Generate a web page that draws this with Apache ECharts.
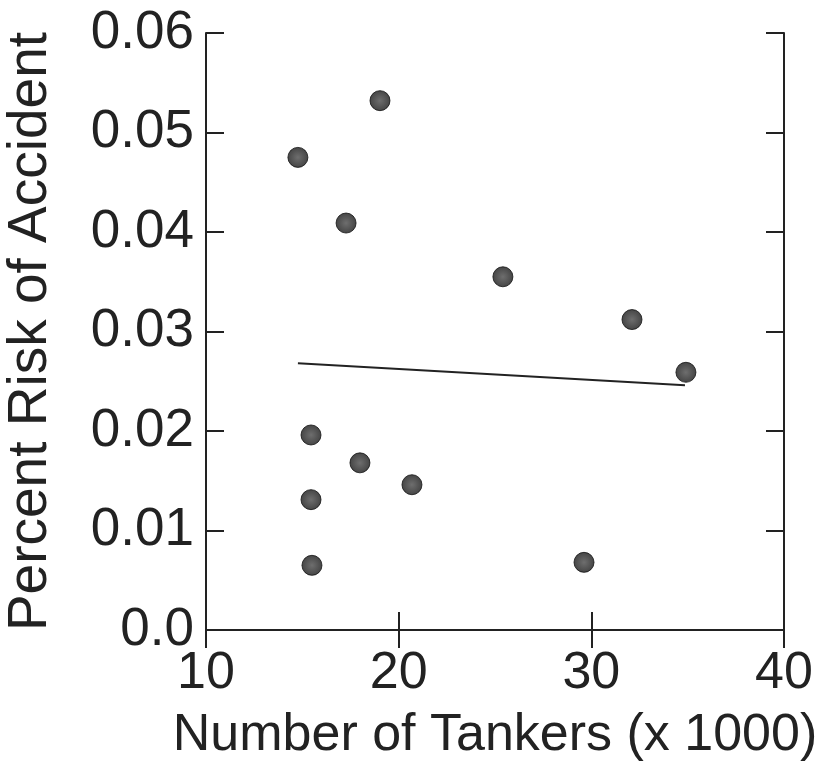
<!DOCTYPE html>
<html>
<head>
<meta charset="utf-8">
<script src="https://cdn.jsdelivr.net/npm/echarts@6/dist/echarts.min.js"></script>
<style>
  html, body { margin: 0; padding: 0; background: #fff; }
  #chart { width: 820px; height: 766px; }
</style>
</head>
<body>
<div id="chart"></div>
<script>
// tankers (x 1000) vs percent risk
const tankers = [14.77, 19.03, 17.27, 25.41, 32.11, 34.91, 15.45, 17.99, 15.45, 20.69, 15.50, 29.62];
const risk = [0.0475, 0.0532, 0.0409, 0.0355, 0.0312, 0.0259, 0.0196, 0.0168, 0.0131, 0.0146, 0.0065, 0.0068];
// fitted line end points
const fitX = [14.77, 34.86];
const fitY = [0.0268, 0.0246];

const font = "Liberation Sans, Arial, sans-serif";
const myChart = echarts.init(document.getElementById("chart"));

const tickStyle = { inside: true, length: 18, lineStyle: { color: "#222", width: 2 } };
const lineStyle = { lineStyle: { color: "#222", width: 2 } };

myChart.setOption({
  animation: false,
  grid: { left: 206, right: 36, top: 33, bottom: 136, containLabel: false, outerBoundsMode: "none" },
  xAxis: [
    {
      type: "value",
      min: 10, max: 40, interval: 10,
      position: "bottom",
      splitLine: { show: false },
      axisLine: lineStyle,
      axisTick: tickStyle,
      axisLabel: { fontFamily: font, fontSize: 52, color: "#222", margin: 18 },
      name: "Number of Tankers (x 1000)",
      nameLocation: "middle",
      nameGap: 80,
      nameTextStyle: { fontFamily: font, fontSize: 52, color: "#222" },
    },
    {
      type: "value",
      min: 10, max: 40, interval: 10,
      position: "top",
      splitLine: { show: false },
      axisLine: lineStyle,
      axisTick: tickStyle,
      axisLabel: { show: false },
    },
  ],
  yAxis: [
    {
      type: "value",
      min: 0, max: 0.06, interval: 0.01,
      position: "left",
      splitLine: { show: false },
      axisLine: lineStyle,
      axisTick: tickStyle,
      axisLabel: {
        fontFamily: font, fontSize: 53, color: "#222", margin: 12,
        formatter: (v) => (v === 0 ? "0.0" : v.toFixed(2)),
      },
      name: "Percent Risk of Accident",
      nameLocation: "middle",
      nameGap: 148,
      nameTextStyle: { fontFamily: font, fontSize: 55, color: "#222" },
    },
    {
      type: "value",
      min: 0, max: 0.06, interval: 0.01,
      position: "right",
      splitLine: { show: false },
      axisLine: lineStyle,
      axisTick: tickStyle,
      axisLabel: { show: false },
    },
  ],
  series: [
    {
      type: "line",
      data: fitX.map((x, i) => [x, fitY[i]]),
      symbol: "none",
      lineStyle: { color: "#222", width: 2 },
      z: 1,
    },
    {
      type: "scatter",
      data: tankers.map((x, i) => [x, risk[i]]),
      symbolSize: 20,
      itemStyle: {
        color: {
          type: "radial", x: 0.5, y: 0.5, r: 0.5,
          colorStops: [
            { offset: 0, color: "#4a4a4a" },
            { offset: 1, color: "#151515" },
          ],
        },
        borderColor: "#111",
        borderWidth: 1,
      },
      z: 2,
    },
  ],
});
</script>
</body>
</html>
